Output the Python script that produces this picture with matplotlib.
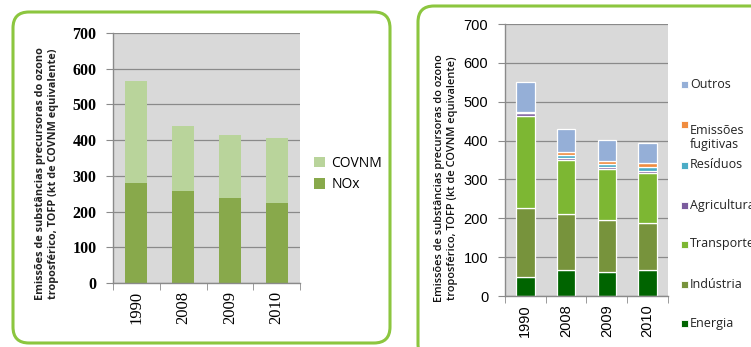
import matplotlib
matplotlib.use("Agg")
import matplotlib.pyplot as plt
from matplotlib.patches import FancyBboxPatch, Rectangle
from matplotlib.transforms import IdentityTransform
import numpy as np

# ---- data ----
years = ["1990", "2008", "2009", "2010"]

# precursor gases (kt COVNM equivalent)
gas_names = ["NOx", "COVNM"]
nox = [280, 258, 237, 225]
covnm = [285, 182, 178, 180]
gas_colors = ["#88A94B", "#B9D49B"]

# by sector (kt COVNM equivalent)
sector_names = ["Energia", "Indústria", "Transportes", "Agricultura",
                "Resíduos", "Emissões\nfugitivas", "Outros"]
energia = [50, 66, 62, 66]
industria = [177, 145, 133, 123]
transportes = [237, 138, 132, 128]
agricultura = [6, 5, 5, 4]
residuos = [2, 10, 7, 10]
fugitivas = [2, 7, 8, 11]
outros = [77, 58, 55, 52]
sector_colors = ["#006400", "#77933C", "#7DB733", "#7B5C9E",
                 "#4BACC6", "#F08C3F", "#95AFD7"]

yticks = [0, 100, 200, 300, 400, 500, 600, 700]
ylabel = ("Emissões de substâncias precursoras do ozono\n"
          "troposférico, TOFP (kt de COVNM equivalente)")

W, H = 751, 347
fig = plt.figure(figsize=(W / 100, H / 100), dpi=100)
fig.patch.set_facecolor("white")

green = "#8CC63F"
# rounded panel frames (pixel coordinates)
for (x0, y0, x1, y1) in [(13, 12, 390, 343), (418, 6, 770, 360)]:
    box = FancyBboxPatch((x0, H - y1), x1 - x0, y1 - y0,
                         boxstyle="round,pad=0,rounding_size=16",
                         transform=IdentityTransform(), facecolor="white",
                         edgecolor=green, linewidth=2.2, zorder=0)
    fig.add_artist(box)


def frac(x0, y0, x1, y1):
    return [x0 / W, 1 - y1 / H, (x1 - x0) / W, (y1 - y0) / H]


def style_axes(ax, tick_font, tick_weight, ytick_size, xtick_size):
    ax.set_facecolor("#D9D9D9")
    ax.set_ylim(0, 700)
    ax.set_xlim(-0.5, 3.5)
    ax.set_yticks(yticks)
    ax.yaxis.grid(True, color="#8A8A8A", linewidth=0.9)
    ax.set_axisbelow(True)
    for s in ["top", "right"]:
        ax.spines[s].set_visible(False)
    for s in ["left", "bottom"]:
        ax.spines[s].set_color("#8A8A8A")
        ax.spines[s].set_linewidth(1.0)
    ax.set_xticks(range(len(years)))
    ax.set_xticklabels(years, rotation=90, fontfamily=tick_font,
                       fontsize=xtick_size)
    ax.set_xticks(np.arange(-0.5, len(years), 1.0), minor=True)
    ax.tick_params(axis="x", which="major", length=0, pad=6)
    ax.tick_params(axis="x", which="minor", length=5, color="#8A8A8A")
    ax.tick_params(axis="y", length=5, color="#8A8A8A", pad=7)
    for t in ax.get_yticklabels():
        t.set_fontfamily(tick_font)
        t.set_fontweight(tick_weight)
        t.set_fontsize(ytick_size)


# ---- left chart: by gas ----
ax1 = fig.add_axes(frac(113, 33, 300, 283))
x = np.arange(len(years))
bottom = np.zeros(len(years))
for name, vals, col in zip(gas_names, [nox, covnm], gas_colors):
    ax1.bar(x, vals, 0.47, bottom=bottom, color=col, label=name, zorder=2)
    bottom += np.array(vals)
style_axes(ax1, "Liberation Serif", "bold", 11.5, 12)
fig.text(47 / W, 1 - 174 / H, ylabel, rotation=90, ha="center", va="center",
         fontsize=7.8, fontweight="bold", fontfamily="Open Sans",
         linespacing=1.3, color="#222222")

h1, l1 = ax1.get_legend_handles_labels()
fig.legend(h1[::-1], l1[::-1], loc="center left",
           bbox_to_anchor=(301 / W, 1 - 174 / H), frameon=False,
           prop={"family": "Open Sans", "size": 10},
           handlelength=0.8, handleheight=0.8, handletextpad=0.5,
           labelspacing=0.45)

# ---- right chart: by sector ----
ax2 = fig.add_axes(frac(505, 24, 668, 296))
series = [energia, industria, transportes, agricultura, residuos, fugitivas,
          outros]
bottom = np.zeros(len(years))
for name, vals, col in zip(sector_names, series, sector_colors):
    ax2.bar(x, vals, 0.45, bottom=bottom, color=col, edgecolor="white",
            linewidth=0.9, label=name, zorder=2)
    bottom += np.array(vals)
style_axes(ax2, "Liberation Sans", "normal", 10.5, 10.5)
fig.text(446 / W, 1 - 178 / H, ylabel, rotation=90, ha="center", va="center",
         fontsize=7.9, fontweight="semibold", fontfamily="Open Sans",
         linespacing=1.25, color="#111111")

# sector legend, one entry per row, top = Outros
legend_rows = [323, 284, 244, 205, 165, 124, 84]
for name, col, yrow in zip(sector_names, sector_colors, legend_rows):
    fig.add_artist(Rectangle((681 / W, 1 - (yrow + 4) / H), 7 / W, 7 / H,
                             transform=fig.transFigure, facecolor=col,
                             edgecolor="white", linewidth=0.6))
    fig.text(690 / W, 1 - yrow / H, name, ha="left",
             va="top" if "\n" in name else "center",
             fontsize=9, fontfamily="Open Sans", color="#222222",
             linespacing=1.1)

fig.savefig("out.png", dpi=100, facecolor="white")
